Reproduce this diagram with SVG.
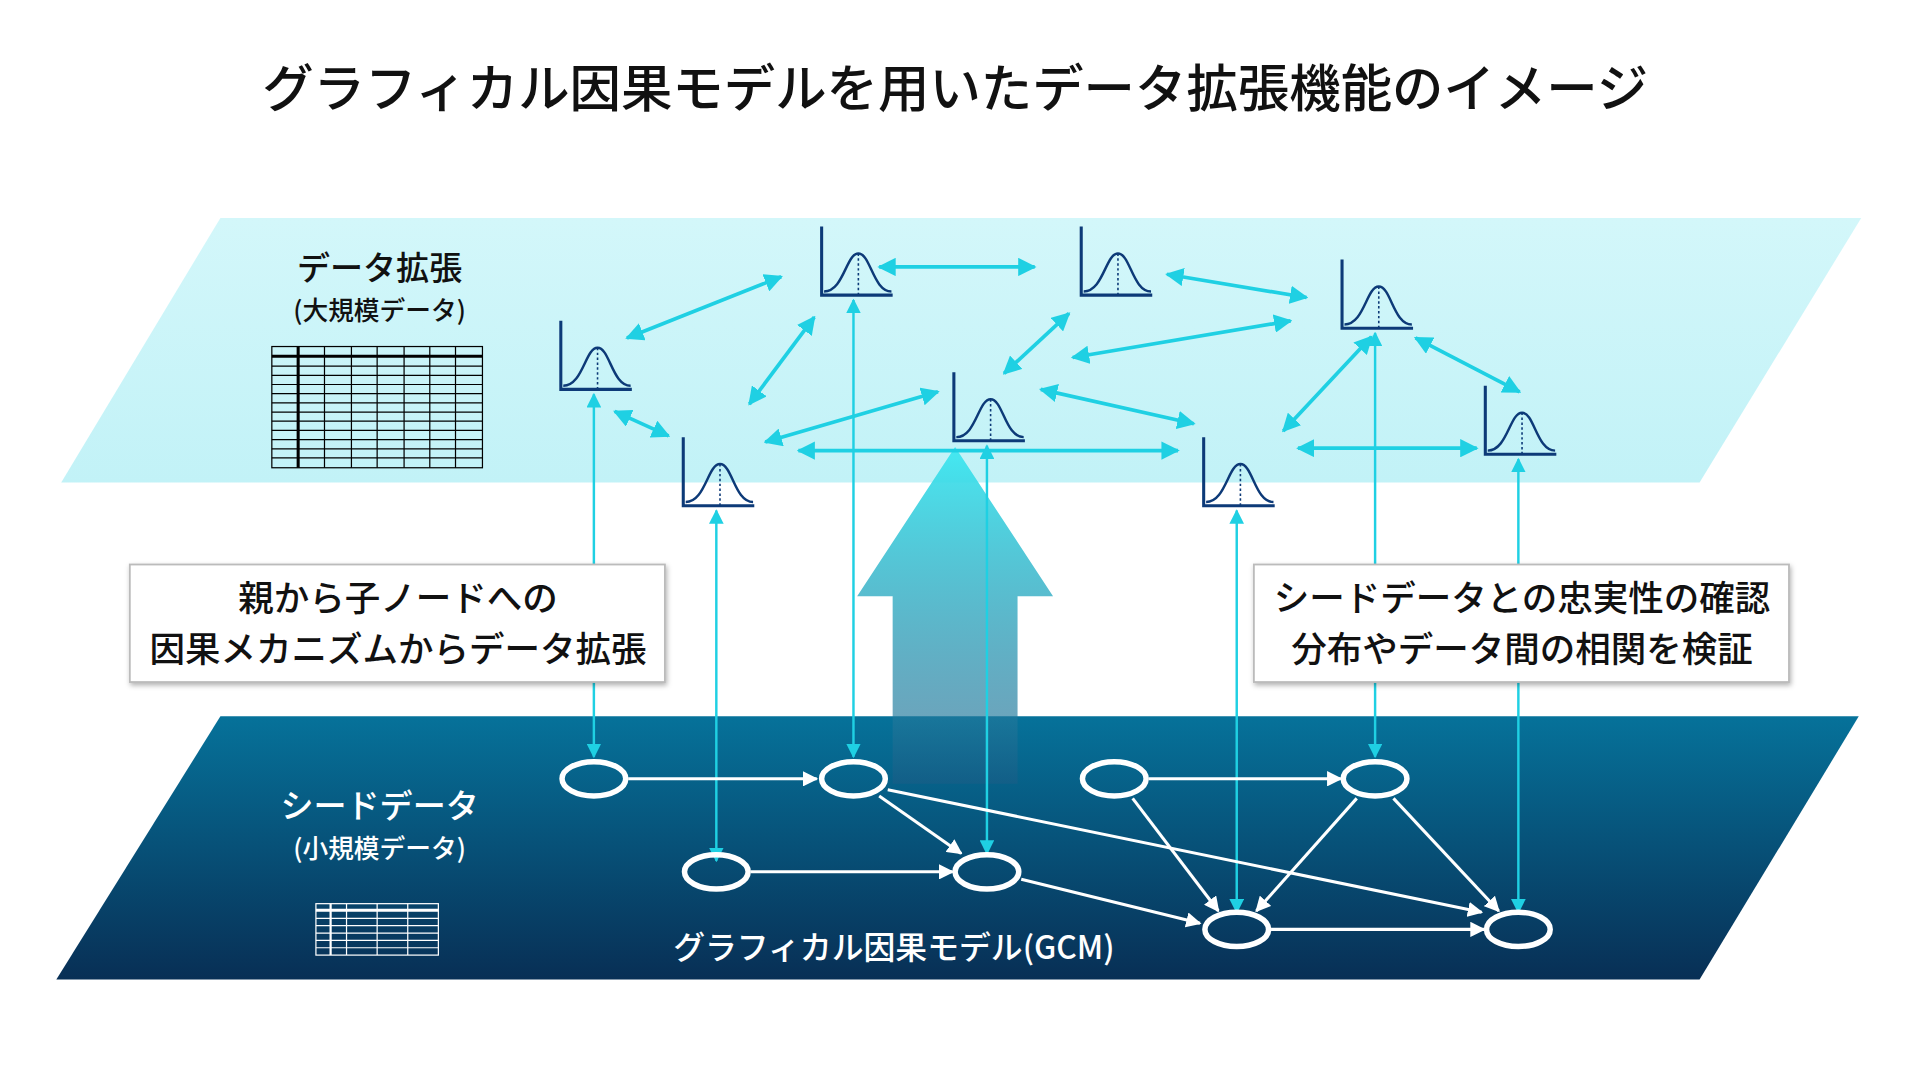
<svg xmlns="http://www.w3.org/2000/svg" width="1920" height="1080" viewBox="0 0 1920 1080">
<defs>
<linearGradient id="top" x1="0" y1="0" x2="0" y2="1"><stop offset="0" stop-color="#d3f7fa"/><stop offset="1" stop-color="#c2f2f7"/></linearGradient>
<linearGradient id="bot" x1="0" y1="0" x2="0" y2="1"><stop offset="0" stop-color="#06729a"/><stop offset="1" stop-color="#082f55"/></linearGradient>
<linearGradient id="big" x1="0" y1="0" x2="0" y2="1"><stop offset="0" stop-color="#3ee9f2" stop-opacity="0.95"/><stop offset="1" stop-color="#1a5d86" stop-opacity="0.6"/></linearGradient>
<marker id="c" viewBox="0 0 10 10" refX="9" refY="5" markerWidth="5" markerHeight="5" orient="auto-start-reverse"><path d="M0,0L10,5L0,10z" fill="#1fd0e3"/></marker>
<marker id="cs" viewBox="0 0 10 10" refX="9" refY="5" markerWidth="6" markerHeight="6" orient="auto-start-reverse"><path d="M0,0L10,5L0,10z" fill="#1fd0e3"/></marker>
<marker id="w" viewBox="0 0 10 10" refX="9" refY="5" markerWidth="5" markerHeight="5" orient="auto"><path d="M0,0L10,5L0,10z" fill="#fff"/></marker>
<g id="dist"><path d="M0,-56V0H58" fill="none" stroke="#0d3a78" stroke-width="2.5"/><path d="M2,-3C18,-3 20,-34 30,-34C40,-34 42,-3 57,-3" fill="none" stroke="#0d3a78" stroke-width="2"/><path d="M30,-34V0" stroke="#0d3a78" stroke-width="1.3" stroke-dasharray="2,2"/></g>
<filter id="sh" x="-5%" y="-10%" width="110%" height="130%"><feDropShadow dx="1" dy="2" stdDeviation="2" flood-opacity="0.3"/></filter>
</defs>
<style>
text{font-family:"Noto Sans CJK JP","Noto Sans",sans-serif;text-anchor:middle;font-weight:500}
.ca{stroke:#1fd0e3;stroke-width:3;fill:none;marker-start:url(#c);marker-end:url(#c)}
.cv{stroke:#1fd0e3;stroke-width:2;fill:none;marker-start:url(#cs);marker-end:url(#cs)}
.wa{stroke:#fff;stroke-width:2.5;fill:none;marker-end:url(#w)}
.nd{fill:none;stroke:#fff;stroke-width:4.5}
.gl{stroke:#000;stroke-width:1}
.gw{stroke:#fff;stroke-width:1}
</style>
<rect width="1920" height="1080" fill="#fff"/>
<g transform="scale(1.22449)">
<text x="780" y="87" font-size="42" fill="#111">グラフィカル因果モデルを用いたデータ拡張機能のイメージ</text>
<path d="M180,178H1520L1388,394H50z" fill="url(#top)"/>
<path d="M180,585H1518L1388,800H46z" fill="url(#bot)"/>
<g id="toplabel"><text x="310" y="229" font-size="27" fill="#111">データ拡張</text><text x="310" y="261" font-size="21" fill="#111">(大規模データ)</text></g>
<g id="bigtable" fill="none">
<rect x="222" y="283" width="172" height="99" class="gl"/>
<path class="gl" d="M265,283V382M287,283V382M308,283V382M330,283V382M351,283V382M372,283V382M222,299H394M222,306.5H394M222,314H394M222,321.5H394M222,329H394M222,336.5H394M222,344H394M222,351.5H394M222,359H394M222,366.5H394M222,374H394"/>
<path stroke="#000" stroke-width="2.5" d="M222,291H394M243.5,283V382"/>
</g>
<g id="smalltable" fill="none">
<rect x="258" y="738" width="100" height="42" class="gw"/>
<path class="gw" d="M283,738V780M308,738V780M333,738V780M258,744H358M258,750H358M258,756H358M258,762H358M258,768H358M258,774H358"/>
<path stroke="#fff" stroke-width="1.8" d="M258,743H358M270,738V780"/>
</g>
<g id="bigarrow"><path d="M780,365L860,487H831V640H729V487H700z" fill="url(#big)"/></g>
<g id="distributions">
<use href="#dist" x="458" y="318"/><use href="#dist" x="671" y="241"/><use href="#dist" x="883" y="241"/><use href="#dist" x="1096" y="268"/>
<use href="#dist" x="779" y="360"/><use href="#dist" x="558" y="413"/><use href="#dist" x="983" y="413"/><use href="#dist" x="1213" y="371"/>
</g>
<g id="connectors">
<path class="ca" d="M512,276L638,226"/><path class="ca" d="M718,218L845,218"/><path class="ca" d="M953,224L1067,243"/>
<path class="ca" d="M612,330L665,259"/><path class="ca" d="M502,336L546,356"/><path class="ca" d="M820,305L873,256"/>
<path class="ca" d="M876,292L1054,262"/><path class="ca" d="M625,361L766,320"/><path class="ca" d="M850,318L975,346"/>
<path class="ca" d="M652,368L962,368"/><path class="ca" d="M1048,352L1120,275"/><path class="ca" d="M1156,276L1241,320"/>
<path class="ca" d="M1060,366L1206,366"/>
<path class="cv" d="M485,322V618"/><path class="cv" d="M585,417V703"/><path class="cv" d="M697,245V618"/><path class="cv" d="M806,364V697"/>
<path class="cv" d="M1010,417V745"/><path class="cv" d="M1123,272V618"/><path class="cv" d="M1240,375V745"/>
<path class="wa" d="M513,636L667,636"/><path class="wa" d="M718,650L785,697"/><path class="wa" d="M725,645L1210,745"/>
<path class="wa" d="M613,712L778,712"/><path class="wa" d="M834,718L980,754"/><path class="wa" d="M938,636L1095,636"/>
<path class="wa" d="M925,652L995,744"/><path class="wa" d="M1108,652L1026,744"/><path class="wa" d="M1138,652L1224,744"/>
<path class="wa" d="M1038,759L1212,759"/>
</g>
<g id="box1"><rect x="106" y="461" width="437" height="96" fill="#fff" stroke="#bbb" stroke-width="1.5" filter="url(#sh)"/><text x="325" y="499" font-size="29" fill="#111">親から子ノードへの</text><text x="325" y="541" font-size="29" fill="#111">因果メカニズムからデータ拡張</text></g>
<g id="box2"><rect x="1024" y="461" width="437" height="96" fill="#fff" stroke="#bbb" stroke-width="1.5" filter="url(#sh)"/><text x="1243" y="499" font-size="29" fill="#111">シードデータとの忠実性の確認</text><text x="1243" y="541" font-size="29" fill="#111">分布やデータ間の相関を検証</text></g>
<g id="nodes">
<ellipse id="n1" class="nd" cx="485" cy="636" rx="26" ry="14"/><ellipse id="n2" class="nd" cx="697" cy="636" rx="26" ry="14"/>
<ellipse id="n3" class="nd" cx="910" cy="636" rx="26" ry="14"/><ellipse id="n4" class="nd" cx="1123" cy="636" rx="26" ry="14"/>
<ellipse id="n5" class="nd" cx="585" cy="712" rx="26" ry="14"/><ellipse id="n6" class="nd" cx="806" cy="712" rx="26" ry="14"/>
<ellipse id="n7" class="nd" cx="1010" cy="759" rx="26" ry="14"/><ellipse id="n8" class="nd" cx="1240" cy="759" rx="26" ry="14"/>
</g>
<g id="botlabel"><text x="310" y="668" font-size="27" fill="#fff">シードデータ</text><text x="310" y="701" font-size="21" fill="#fff">(小規模データ)</text>
<text x="730" y="783" font-size="26" fill="#fff">グラフィカル因果モデル(GCM)</text></g>
</g>
</svg>
